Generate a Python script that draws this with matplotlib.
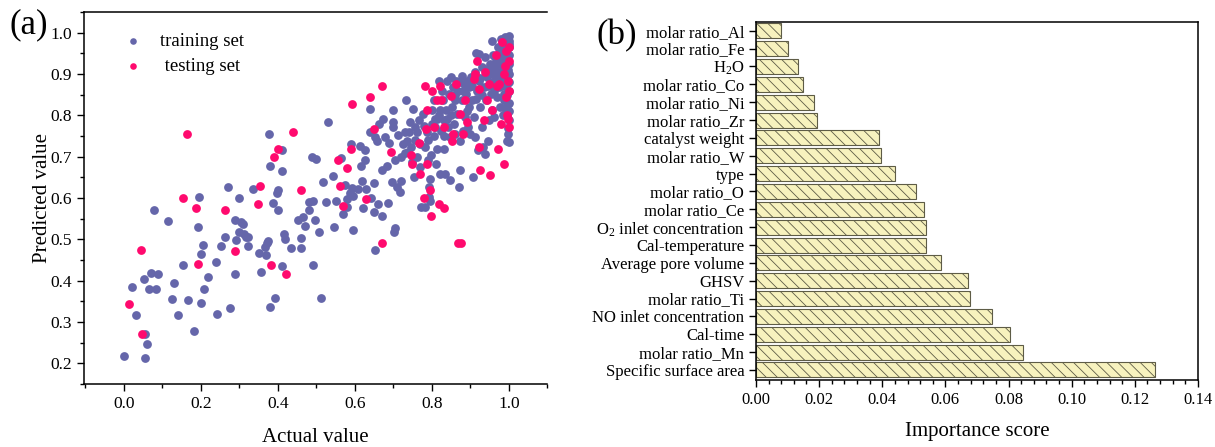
import numpy as np
import matplotlib.pyplot as plt
from matplotlib.ticker import MultipleLocator

plt.rcParams['font.family'] = ['Liberation Serif', 'DejaVu Serif']
plt.rcParams['mathtext.fontset'] = 'custom'
plt.rcParams['mathtext.rm'] = 'Liberation Serif'
plt.rcParams['mathtext.it'] = 'Liberation Serif:italic'
plt.rcParams['hatch.linewidth'] = 0.6

# (actual, predicted) pairs for the two sets
train = [
    (0.000, 0.218), (0.020, 0.385), (0.031, 0.317), (0.052, 0.403), (0.055, 0.272),
    (0.060, 0.246), (0.054, 0.213), (0.070, 0.419), (0.065, 0.381), (0.078, 0.572),
    (0.082, 0.379), (0.088, 0.417), (0.115, 0.545), (0.124, 0.355), (0.131, 0.395),
    (0.141, 0.317), (0.154, 0.437), (0.165, 0.354), (0.183, 0.279), (0.193, 0.530),
    (0.194, 0.602), (0.201, 0.347), (0.201, 0.464), (0.204, 0.487), (0.208, 0.379),
    (0.217, 0.408), (0.239, 0.445), (0.241, 0.320), (0.251, 0.483), (0.262, 0.506),
    (0.271, 0.626), (0.276, 0.334), (0.288, 0.548), (0.289, 0.415), (0.292, 0.499),
    (0.299, 0.600), (0.299, 0.517), (0.303, 0.542), (0.310, 0.536), (0.312, 0.514),
    (0.317, 0.506), (0.322, 0.506), (0.322, 0.484), (0.335, 0.621), (0.351, 0.467),
    (0.357, 0.420), (0.367, 0.482), (0.371, 0.490), (0.373, 0.496), (0.369, 0.461),
    (0.377, 0.754), (0.380, 0.677), (0.380, 0.337), (0.388, 0.588), (0.392, 0.357),
    (0.397, 0.612), (0.400, 0.620), (0.400, 0.570), (0.411, 0.717), (0.411, 0.666),
    (0.411, 0.436), (0.415, 0.514), (0.419, 0.500), (0.434, 0.480), (0.452, 0.547),
    (0.464, 0.553), (0.461, 0.480), (0.460, 0.503), (0.470, 0.532), (0.480, 0.570),
    (0.480, 0.590), (0.488, 0.699), (0.491, 0.593), (0.492, 0.437), (0.495, 0.547),
    (0.500, 0.695), (0.507, 0.518), (0.513, 0.359), (0.516, 0.638), (0.525, 0.591),
    (0.531, 0.784), (0.543, 0.654), (0.545, 0.530), (0.551, 0.594), (0.563, 0.697),
    (0.568, 0.562), (0.575, 0.631), (0.580, 0.578), (0.580, 0.598), (0.589, 0.731),
    (0.588, 0.613), (0.593, 0.624), (0.594, 0.522), (0.596, 0.606), (0.609, 0.622),
    (0.614, 0.725), (0.616, 0.678), (0.618, 0.640), (0.620, 0.577), (0.625, 0.717),
    (0.627, 0.691), (0.629, 0.621), (0.638, 0.759), (0.640, 0.815), (0.641, 0.601),
    (0.649, 0.636), (0.650, 0.565), (0.652, 0.474), (0.652, 0.747), (0.658, 0.739),
    (0.661, 0.585), (0.663, 0.779), (0.670, 0.667), (0.670, 0.556), (0.674, 0.791),
    (0.679, 0.747), (0.684, 0.678), (0.687, 0.588), (0.689, 0.734), (0.695, 0.639),
    (0.698, 0.812), (0.698, 0.771), (0.699, 0.783), (0.701, 0.517), (0.704, 0.528),
    (0.704, 0.691), (0.709, 0.627), (0.713, 0.752), (0.716, 0.615), (0.720, 0.699),
    (0.725, 0.731), (0.729, 0.759), (0.732, 0.837), (0.734, 0.739), (0.738, 0.711),
    (0.743, 0.783), (0.745, 0.723), (0.747, 0.687), (0.750, 0.816), (0.752, 0.651),
    (0.756, 0.771), (0.761, 0.759), (0.765, 0.788), (0.768, 0.731), (0.770, 0.675),
    (0.771, 0.578), (0.777, 0.804), (0.779, 0.775), (0.783, 0.723), (0.788, 0.759),
    (0.789, 0.691), (0.792, 0.627), (0.795, 0.647), (0.796, 0.594), (0.798, 0.703),
    (0.801, 0.812), (0.804, 0.751), (0.805, 0.836), (0.807, 0.771), (0.810, 0.683),
    (0.812, 0.792), (0.814, 0.719), (0.817, 0.884), (0.820, 0.812), (0.821, 0.659),
    (0.823, 0.763), (0.825, 0.860), (0.828, 0.836), (0.830, 0.788), (0.832, 0.719),
    (0.834, 0.659), (0.837, 0.812), (0.839, 0.884), (0.841, 0.771), (0.843, 0.852),
    (0.846, 0.747), (0.848, 0.643), (0.850, 0.892), (0.852, 0.820), (0.854, 0.868),
    (0.857, 0.779), (0.859, 0.836), (0.861, 0.755), (0.863, 0.884), (0.866, 0.804),
    (0.868, 0.860), (0.870, 0.627), (0.872, 0.667), (0.874, 0.739), (0.877, 0.896),
    (0.879, 0.836), (0.881, 0.763), (0.884, 0.876), (0.886, 0.796), (0.888, 0.852),
    (0.890, 0.884), (0.893, 0.771), (0.895, 0.820), (0.897, 0.868), (0.899, 0.755),
    (0.902, 0.892), (0.904, 0.836), (0.906, 0.651), (0.908, 0.796), (0.911, 0.904),
    (0.913, 0.747), (0.914, 0.952), (0.917, 0.860), (0.920, 0.715), (0.921, 0.884),
    (0.923, 0.948), (0.926, 0.820), (0.929, 0.916), (0.930, 0.771), (0.932, 0.723),
    (0.935, 0.868), (0.938, 0.707), (0.939, 0.940), (0.941, 0.836), (0.944, 0.892),
    (0.946, 0.739), (0.948, 0.788), (0.950, 0.924), (0.953, 0.852), (0.955, 0.812),
    (0.957, 0.981), (0.959, 0.880), (0.962, 0.796), (0.963, 0.940), (0.966, 0.908),
    (0.968, 0.844), (0.971, 0.965), (0.973, 0.868), (0.975, 0.924), (0.977, 0.820),
    (0.979, 0.985), (0.981, 0.892), (0.984, 0.948), (0.986, 0.852), (0.988, 0.916),
    (0.990, 0.989), (0.991, 0.812), (0.993, 0.956), (0.995, 0.876), (0.996, 0.739),
    (0.997, 0.932), (0.998, 0.828), (0.999, 0.973), (1.000, 0.900), (1.000, 0.788),
    (1.000, 0.860), (1.000, 0.993), (1.000, 0.924), (1.000, 0.735), (0.998, 0.755),
    (0.995, 0.800), (0.988, 0.836), (0.984, 0.884), (0.783, 0.578), (0.791, 0.602),
    (0.970, 0.900), (0.975, 0.950), (0.980, 0.870), (0.985, 0.910), (0.990, 0.940),
    (0.995, 0.960), (0.992, 0.900), (0.996, 0.850), (0.965, 0.930), (0.960, 0.860),
    (0.955, 0.900), (0.945, 0.870), (0.990, 0.870), (0.998, 0.910), (0.998, 0.975),
    (0.994, 0.982), (0.986, 0.965), (0.978, 0.935), (0.970, 0.880), (0.940, 0.900),
    (0.930, 0.850), (0.925, 0.890), (0.915, 0.840), (0.905, 0.870), (0.890, 0.810),
    (0.880, 0.860), (0.870, 0.880), (0.860, 0.850), (0.850, 0.800), (0.840, 0.790),
    (0.830, 0.750), (0.818, 0.800), (0.808, 0.790), (0.800, 0.780), (0.760, 0.700),
    (0.740, 0.760), (0.730, 0.710), (0.720, 0.640), (0.755, 0.740), (0.790, 0.740),
    (1.000, 0.810), (1.000, 0.830), (1.000, 0.880), (1.000, 0.945), (1.000, 0.965),
    (1.000, 0.980), (0.996, 0.895), (0.993, 0.930), (0.988, 0.975), (0.983, 0.925),
    (0.978, 0.905), (0.972, 0.940), (0.967, 0.890), (0.962, 0.915), (0.958, 0.945),
    (0.952, 0.875), (0.947, 0.915), (0.993, 0.820), (0.985, 0.800), (0.997, 0.770),
]

test = [
    (0.014, 0.343), (0.043, 0.475), (0.047, 0.272), (0.152, 0.601), (0.163, 0.755),
    (0.188, 0.577), (0.191, 0.440), (0.262, 0.570), (0.289, 0.472), (0.348, 0.586),
    (0.354, 0.629), (0.382, 0.439), (0.390, 0.699), (0.400, 0.719), (0.422, 0.417),
    (0.440, 0.760), (0.460, 0.619), (0.557, 0.691), (0.561, 0.630), (0.569, 0.580),
    (0.580, 0.672), (0.589, 0.718), (0.593, 0.828), (0.629, 0.598), (0.640, 0.845),
    (0.649, 0.767), (0.670, 0.870), (0.670, 0.491), (0.694, 0.711), (0.745, 0.705),
    (0.747, 0.683), (0.765, 0.733), (0.770, 0.659), (0.779, 0.600), (0.781, 0.872),
    (0.785, 0.767), (0.788, 0.812), (0.786, 0.683), (0.795, 0.620), (0.798, 0.556),
    (0.801, 0.860), (0.805, 0.771), (0.814, 0.836), (0.818, 0.586), (0.823, 0.836),
    (0.821, 0.871), (0.830, 0.577), (0.832, 0.771), (0.850, 0.848), (0.852, 0.739),
    (0.854, 0.755), (0.863, 0.876), (0.868, 0.490), (0.875, 0.490), (0.872, 0.804),
    (0.881, 0.755), (0.886, 0.836), (0.890, 0.783), (0.908, 0.888), (0.913, 0.900),
    (0.917, 0.932), (0.921, 0.864), (0.921, 0.723), (0.926, 0.667), (0.935, 0.788),
    (0.939, 0.904), (0.944, 0.836), (0.948, 0.876), (0.950, 0.655), (0.955, 0.812),
    (0.966, 0.947), (0.971, 0.719), (0.975, 0.876), (0.979, 0.780), (0.982, 0.977),
    (0.986, 0.900), (0.988, 0.683), (0.991, 0.844), (0.993, 0.956), (0.995, 0.800),
    (0.997, 0.884), (0.999, 0.771), (1.000, 0.932), (1.000, 0.860), (0.998, 0.792),
    (1.000, 0.965), (0.990, 0.920), (0.970, 0.870),
]

features = [
    'Specific surface area', 'molar ratio_Mn', 'Cal-time', 'NO inlet concentration',
    'molar ratio_Ti', 'GHSV', 'Average pore volume', 'Cal-temperature',
    'O$_2$ inlet concentration', 'molar ratio_Ce', 'molar ratio_O', 'type',
    'molar ratio_W', 'catalyst weight', 'molar ratio_Zr', 'molar ratio_Ni',
    'molar ratio_Co', 'H$_2$O', 'molar ratio_Fe', 'molar ratio_Al',
]
scores = [
    0.1263, 0.0846, 0.0803, 0.0748, 0.0677, 0.0671, 0.0586, 0.0540, 0.0537, 0.0533,
    0.0506, 0.0440, 0.0397, 0.0391, 0.0192, 0.0185, 0.0150, 0.0134, 0.0100, 0.0078,
]

train_x, train_y = np.array(train).T
test_x, test_y = np.array(test).T

fig = plt.figure(figsize=(12.15, 4.47), dpi=100)

#---- (a) predicted vs actual ----#
ax1 = fig.add_axes([0.0691, 0.1409, 0.3815, 0.8322])
ax1.scatter(train_x, train_y, s=40, color='#6566AA', linewidths=0, label='training set', zorder=2)
ax1.scatter(test_x, test_y, s=40, color='#FF0A6E', linewidths=0, label=' testing set', zorder=3)
ax1.set_xlim(-0.104, 1.1)
ax1.set_ylim(0.15, 1.05)
ax1.xaxis.set_minor_locator(MultipleLocator(0.1))
ax1.yaxis.set_major_locator(MultipleLocator(0.1))
ax1.yaxis.set_minor_locator(MultipleLocator(0.05))
ax1.set_xticks([0.0, 0.2, 0.4, 0.6, 0.8, 1.0])
ax1.tick_params(which='major', direction='out', length=5, width=1, labelsize=12.5)
ax1.tick_params(which='minor', direction='out', length=3, width=1)
ax1.spines['right'].set_visible(False)
for s in ax1.spines.values():
    s.set_linewidth(1.1)
ax1.set_xlabel('Actual value', fontsize=15, labelpad=12)
ax1.set_ylabel('Predicted value', fontsize=15, labelpad=-1)
ax1.legend(loc='upper left', bbox_to_anchor=(0.03, 0.99), frameon=False, fontsize=13.5,
           handletextpad=0.4, labelspacing=0.45, markerscale=0.75)
fig.text(0.008, 0.925, '(a)', fontsize=25)

#---- (b) feature importance ----#
ax2 = fig.add_axes([0.6222, 0.1499, 0.3638, 0.8009])
pos = np.arange(len(features))
ax2.barh(pos, scores, height=0.84, color='#F7F2BE', edgecolor='#5E5C46', linewidth=0.8,
         hatch='\\\\\\')
ax2.set_yticks(pos)
ax2.set_yticklabels(features)
ax2.set_ylim(-0.56, len(features) - 0.51)
ax2.set_xlim(0, 0.14)
ax2.xaxis.set_major_locator(MultipleLocator(0.02))
ax2.xaxis.set_minor_locator(MultipleLocator(0.004))
ax2.xaxis.set_major_formatter(plt.FormatStrFormatter('%.2f'))
ax2.tick_params(which='major', direction='out', length=5, width=1, labelsize=12)
ax2.tick_params(which='minor', direction='out', length=3, width=1)
for s in ax2.spines.values():
    s.set_linewidth(1.1)
ax2.set_xlabel('Importance score', fontsize=15, labelpad=10)
fig.text(0.491, 0.9, '(b)', fontsize=25)

fig.savefig('out.png', dpi=100)
